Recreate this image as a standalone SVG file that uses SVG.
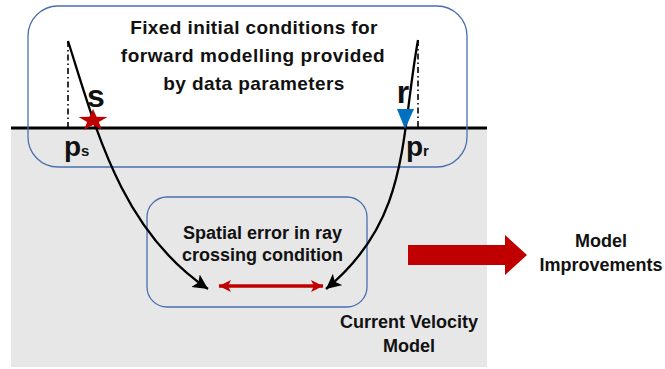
<svg xmlns="http://www.w3.org/2000/svg" width="665" height="369" viewBox="0 0 665 369">
<style>
.t{font-family:"Liberation Sans",Arial,sans-serif;font-weight:bold;fill:#111;}
.box{fill:none;stroke:#4a6fae;stroke-width:1.3;}
.ray{fill:none;stroke:#000;stroke-width:2.3;}
.dd{fill:none;stroke:#000;stroke-width:1.6;stroke-dasharray:6 3 1.5 3;}
</style>
<defs>
<marker id="ah" markerUnits="userSpaceOnUse" markerWidth="20" markerHeight="20" refX="15" refY="7.5" orient="auto">
<path d="M0,0 L15,7.5 L0,15 L3.5,7.5 Z" fill="#000"/>
</marker>
<marker id="rh" markerUnits="userSpaceOnUse" markerWidth="16" markerHeight="14" refX="12" refY="6" orient="auto-start-reverse">
<path d="M0,0 L12,6 L0,12 L3,6 Z" fill="#c00000"/>
</marker>
</defs>
<rect x="0" y="0" width="665" height="369" fill="#fff"/>
<g id="velocity-model">
<rect x="11" y="128" width="476" height="239" fill="#e7e7e7"/>
<line x1="11" y1="128" x2="487" y2="128" stroke="#000" stroke-width="3"/>
<text class="t" font-size="18" x="409" y="328" text-anchor="middle">Current Velocity</text>
<text class="t" font-size="18" x="409" y="352" text-anchor="middle">Model</text>
</g>
<g id="initial-conditions">
<rect class="box" x="28" y="6" width="439" height="161" rx="30"/>
<text class="t" font-size="19" letter-spacing="0.4" x="254" y="34" text-anchor="middle">Fixed initial conditions for</text>
<text class="t" font-size="19" letter-spacing="0.55" x="253" y="62" text-anchor="middle">forward modelling provided</text>
<text class="t" font-size="19" letter-spacing="0.4" x="254" y="90" text-anchor="middle">by data parameters</text>
</g>
<g id="source">
<line class="dd" x1="68" y1="41" x2="68" y2="128"/>
<text class="t" font-size="32" x="96" y="107" text-anchor="middle">s</text>
<text class="t" font-size="28" x="64" y="156">p<tspan font-size="15">s</tspan></text>
</g>
<g id="receiver">
<line class="dd" x1="418" y1="40" x2="418" y2="128"/>
<text class="t" font-size="32" x="403" y="103" text-anchor="middle">r</text>
<text class="t" font-size="28" x="406" y="156">p<tspan font-size="15">r</tspan></text>
</g>
<g id="spatial-error">
<rect class="box" x="147" y="197" width="220" height="110" rx="20"/>
<text class="t" font-size="18" x="262.5" y="239" text-anchor="middle">Spatial error in ray</text>
<text class="t" font-size="18" x="262.5" y="261" text-anchor="middle">crossing condition</text>
</g>
<g id="connectors">
<path class="ray" d="M68,41 C95,125 120,230 208,289" marker-end="url(#ah)"/>
<path class="ray" d="M418,40 C400,140 410,220 326,289" marker-end="url(#ah)"/>
<line x1="219" y1="286" x2="323" y2="286" stroke="#c00000" stroke-width="3.5" marker-start="url(#rh)" marker-end="url(#rh)"/>
<polygon points="408,245 505,245 505,235 527,255 505,275 505,265 408,265" fill="#c00000"/>
</g>
<g id="source-marker">
<polygon fill="#c00000" points="93,109 96.59,116.78 107.46,116.95 98.8,121.92 101.93,129.8 93,125.1 84.07,129.8 87.2,121.92 78.54,116.95 89.41,116.78"/>
</g>
<g id="receiver-marker">
<polygon fill="#0070c0" points="397,109 414,109 405,129"/>
</g>
<g id="model-improvements">
<text class="t" font-size="18" x="601" y="247" text-anchor="middle">Model</text>
<text class="t" font-size="18" x="601" y="271" text-anchor="middle">Improvements</text>
</g>
</svg>
